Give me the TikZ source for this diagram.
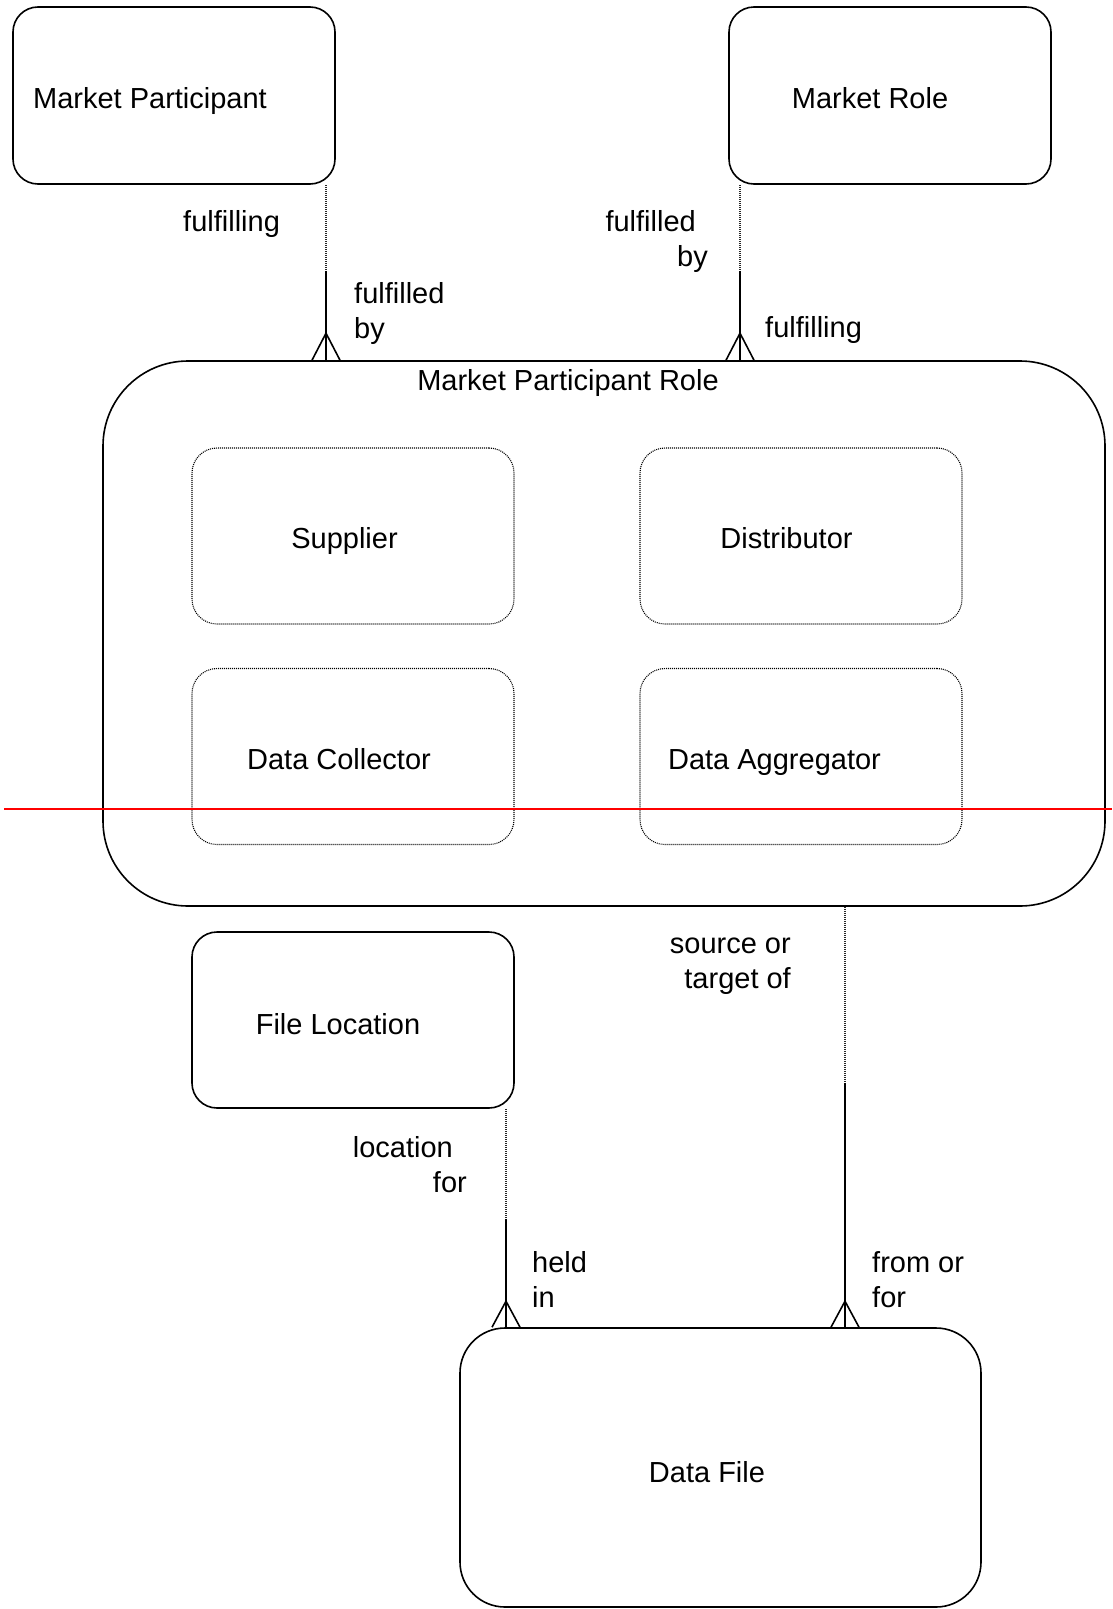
\documentclass[tikz,border=0pt]{standalone}
\usepackage{fontspec}
\setmainfont{Liberation Sans}
\tikzstyle{every node}=[font=\fontsize{29}{35}\selectfont, inner sep=0pt]
\tikzstyle{entity}=[draw, line width=1.6pt, rounded corners=25]
\tikzstyle{subtype}=[draw, dash pattern=on 1pt off 1pt, line width=1.1pt, black, rounded corners=25, minimum width=322, minimum height=176]
\tikzstyle{rel}=[line width=1.6pt]
\tikzstyle{optional}=[dash pattern=on 1pt off 1pt, line width=1.1pt, black!85]

\begin{document}
\begin{tikzpicture}[x=1pt, y=-1pt]
\useasboundingbox (0,0) rectangle (1112,1609);
% Entities
    \node[entity, minimum width=322, minimum height=177] (mp) at (174,95.5) {};
    \node[entity, minimum width=322, minimum height=177] (mr) at (890,95.5) {};
    \node[entity, minimum width=1002, minimum height=545, rounded corners=85] (mpr) at (604,633.5) {};
    \node[entity, minimum width=322, minimum height=176] (fl) at (353,1020) {};
    \node[entity, minimum width=521, minimum height=279, rounded corners=45] (df) at (720.5,1467.5) {};
% Subtypes
    \node[subtype] (sup) at (353,536) {};
    \node[subtype] (dist) at (801,536) {};
    \node[subtype] (dc) at (353,756.5) {};
    \node[subtype] (da) at (801,756.5) {};
% Names
    \node[anchor=base] (mptext) at (150,108) {Market Participant};
    \node[anchor=base] (mrtext) at (870,108) {Market Role};
    \node[anchor=base] (mprtext) at (568,390) {Market Participant Role};
    \node[anchor=base] (suptext) at (344.5,548) {Supplier};
    \node[anchor=base] (disttext) at (786.5,548) {Distributor};
    \node[anchor=base] (dctext) at (339,769) {Data Collector};
    \node[anchor=base] (datext) at (774.5,769) {Data Aggregator};
    \node[anchor=base] (fltext) at (338,1034) {File Location};
    \node[anchor=base] (dftext) at (707,1482) {Data File};
% Relationships
    \coordinate (r1) at (326,271);
    \coordinate (r2) at (740,271);
    \coordinate (r3) at (506,1219);
    \coordinate (r4) at (845,1083);
    \draw[optional] (r1 |- mp.south) -- (r1);
    \draw[rel] (r1) -- (r1 |- mpr.north);
    \draw[rel] (r1 |- mpr.north) ++(-14,0) -- ++(14,-27) -- ++(14,27);
    \draw[optional] (r2 |- mr.south) -- (r2);
    \draw[rel] (r2) -- (r2 |- mpr.north);
    \draw[rel] (r2 |- mpr.north) ++(-14,0) -- ++(14,-27) -- ++(14,27);
    \draw[optional] (r3 |- fl.south) -- (r3);
    \draw[rel] (r3) -- (r3 |- df.north);
    \draw[rel] (r3 |- df.north) ++(-14,0) -- ++(14,-26) -- ++(14,26);
    \draw[optional] (r4 |- mpr.south) -- (r4);
    \draw[rel] (r4) -- (r4 |- df.north);
    \draw[rel] (r4 |- df.north) ++(-14,0) -- ++(14,-26) -- ++(14,26);
% Role names
    \node[anchor=base west] (l1) at (183,231) {fulfilling};
    \node[anchor=base west, align=left] (l2) at (354,338) {fulfilled\\by};
    \node[anchor=base east, align=right] (l3) at (708,266) {fulfilled\hspace*{12pt}\\by};
    \node[anchor=base west] (l4) at (765,337) {fulfilling};
    \node[anchor=base east, align=right] (l5) at (791,988) {source or\\target of};
    \node[anchor=base east, align=right] (l6) at (467,1192) {location\hspace*{14pt}\\for};
    \node[anchor=base west, align=left] (l7) at (532,1307) {held\\in};
    \node[anchor=base west, align=left] (l8) at (872,1307) {from or\\for};
% Red line
    \draw[red, line width=2pt] (4,809) -- (1112,809);
\end{tikzpicture}
\end{document}
